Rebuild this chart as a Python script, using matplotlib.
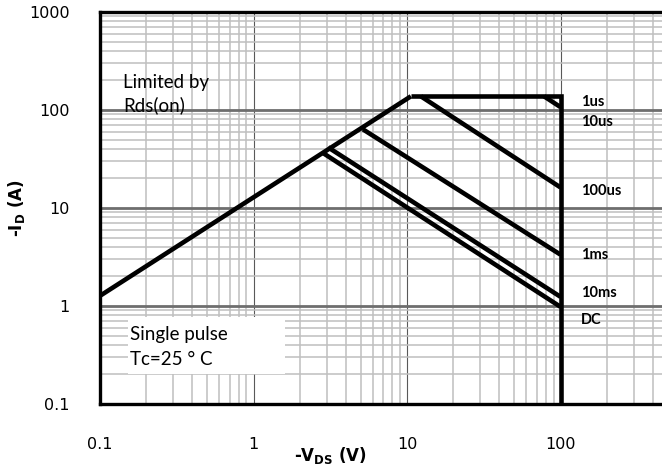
import matplotlib
matplotlib.use('Agg')
import matplotlib.pyplot as plt
from matplotlib.patches import Rectangle
from matplotlib.ticker import FixedLocator, NullFormatter

# Rds(on) limit line (V, A)
rds_v = [0.1, 10.6]
rds_i = [1.27, 138]

# pulse-width limit lines: start point on the Rds/current limit, end at 100 V
pulse_names = ['1us', '10us', '100us', '1ms', '10ms', 'DC']
pulse_v = [[10.6, 100, 100], [78, 100], [12.3, 100], [5.16, 100], [3.06, 100], [2.79, 100]]
pulse_i = [[138, 138, 0.1], [138, 107], [138, 16.2], [63.5, 3.34], [41.6, 1.24], [37, 0.98]]

# label y positions next to the 100 V line
label_y = [120, 75, 14.8, 3.34, 1.37, 0.72]

x_ticks = [0.1, 1, 10, 100]
x_tick_labels = ['0.1', '1', '10', '100']
y_ticks = [0.1, 1, 10, 100, 1000]
y_tick_labels = ['0.1', '1', '10', '100', '1000']

fig = plt.figure(figsize=(6.62, 4.74), dpi=100)
ax = fig.add_axes([100 / 662, 70 / 474, 562 / 662, 392 / 474])
ax.set_xscale('log')
ax.set_yscale('log')
ax.set_xlim(0.1, 458)
ax.set_ylim(0.1, 1000)

# grid: minor light gray, major darker
ax.xaxis.set_major_locator(FixedLocator(x_ticks))
ax.yaxis.set_major_locator(FixedLocator(y_ticks))
ax.set_xticklabels(x_tick_labels)
ax.set_yticklabels(y_tick_labels)
ax.xaxis.set_minor_formatter(NullFormatter())
ax.yaxis.set_minor_formatter(NullFormatter())
ax.grid(True, which='minor', color='#bfbfbf', linewidth=1.1)
ax.grid(True, which='major', axis='x', color='#595959', linewidth=0.8)
ax.grid(True, which='major', axis='y', color='#6e6e6e', linewidth=2.0)
ax.set_axisbelow(True)
ax.tick_params(which='both', length=0)
ax.tick_params(axis='x', pad=24, labelsize=11.5)
ax.tick_params(axis='y', pad=22, labelsize=11.5)

for side in ['left', 'bottom', 'top']:
    ax.spines[side].set_linewidth(2.4)
    ax.spines[side].set_color('black')
ax.spines['right'].set_visible(False)

# SOA lines
ax.plot(rds_v, rds_i, color='black', lw=3.3, solid_capstyle='butt', zorder=3)
for v, i in zip(pulse_v, pulse_i):
    ax.plot(v, i, color='black', lw=3.3, solid_joinstyle='miter', solid_capstyle='butt', zorder=3)

for name, y in zip(pulse_names, label_y):
    ax.text(136, y, name, fontsize=10.5, fontweight='bold', family=['Lato', 'DejaVu Sans'],
            va='center', ha='left', zorder=4)

ax.text(0.041, 0.79, 'Limited by\nRds(on)', transform=ax.transAxes, fontsize=13.5,
        family=['Lato', 'DejaVu Sans'], va='center', ha='left', linespacing=1.35, zorder=4)

ax.add_patch(Rectangle((0.0498, 0.0765), 0.279, 0.1455, transform=ax.transAxes,
                       facecolor='white', edgecolor='none', zorder=2.5))
ax.text(0.054, 0.146, 'Single pulse\nTc=25 \u00b0 C', transform=ax.transAxes, fontsize=13.5,
        family=['Lato', 'DejaVu Sans'], va='center', ha='left', linespacing=1.55, zorder=4)

ax.set_xlabel('-V$_{\\mathbf{DS}}$ (V)', fontsize=12, fontweight='bold')
ax.set_ylabel('-I$_{\\mathbf{D}}$ (A)', fontsize=12, fontweight='bold')
ax.xaxis.set_label_coords(0.41, -0.105)
ax.yaxis.set_label_coords(-0.13, 0.5)

fig.savefig('out.png', dpi=100)
